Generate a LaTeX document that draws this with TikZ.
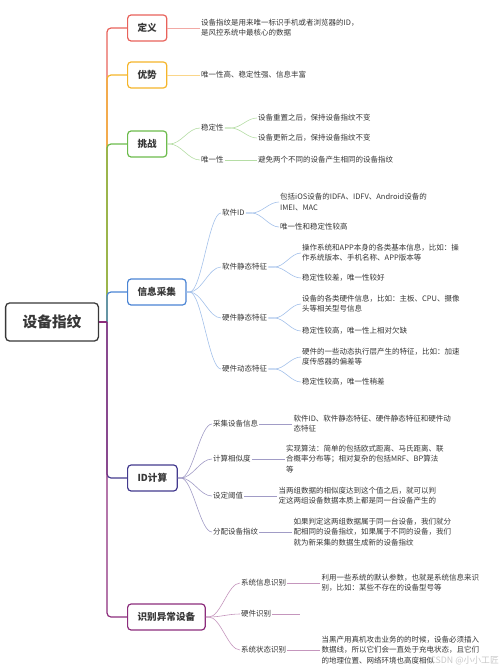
\documentclass[tikz,border=0pt]{standalone}
\usepackage{fontspec}
\setmainfont{Noto Sans CJK SC}
\usepackage{tikz}
\usetikzlibrary{positioning}
\definecolor{rootc}{HTML}{383838}
\definecolor{txt}{HTML}{363636}
\definecolor{cDef}{HTML}{E8625B}
\definecolor{cAdv}{HTML}{F5B52A}
\definecolor{cChal}{HTML}{6CBB4C}
\definecolor{cInfo}{HTML}{4A84D4}
\definecolor{cCalc}{HTML}{433A8E}
\definecolor{cAbn}{HTML}{8C2D7C}

\begin{document}
\begin{tikzpicture}[x=1pt,y=-1pt,
  rootbox/.style={draw=rootc,line width=1.3pt,rounded corners=4pt,text=rootc,font=\fontsize{14.7}{16}\selectfont\bfseries,inner xsep=17pt,minimum height=38pt},
  topic/.style={draw=#1,line width=1.2pt,rounded corners=3.5pt,fill=white,text=rootc,anchor=west,font=\fontsize{9.6}{11}\selectfont\bfseries,inner xsep=10pt,minimum height=26pt},
  sub/.style={anchor=west,inner sep=1pt,text=txt,font=\fontsize{7.5}{9}\selectfont},
  leaf/.style={anchor=west,inner sep=1pt,align=left,text=txt,font=\fontsize{7.5}{10.2}\selectfont},
  lk/.style={draw=#1,line width=.6pt},
  fan/.style={to path={.. controls +(#1,0) and +(-#1,0) .. (\tikztotarget)}},fan/.default=12]
\useasboundingbox (0,0) rectangle (500,671);

\node[rootbox] (root) at (52,322) {设备指纹};
\coordinate (tr) at (107,322);

% main topics
\node[topic=cDef] (def) at (127,28) {定义};
\node[topic=cAdv] (adv) at (127,75) {优势};
\node[topic=cChal] (chal) at (127,144) {挑战};
\node[topic=cInfo] (info) at (127,292) {信息采集};
\node[topic=cCalc] (calc) at (127,478) {ID计算};
\node[topic=cAbn] (abn) at (127,617) {识别异常设备};

% trunk
\foreach \t/\c in {def/cDef,adv/cAdv,chal/cChal,info/cInfo,calc/cCalc,abn/cAbn}
  \draw[\c,line width=1.2pt,rounded corners=4pt] (tr) -- (tr |- \t.west) -- (\t.west);
\draw[cAbn,line width=1.2pt] (root.east) -- (tr);

% 定义 / 优势
\node[leaf] (defl) at (200,28) {设备指纹是用来唯一标识手机或者浏览器的ID，\\是风控系统中最核心的数据};
\draw[lk=cDef!55] (def.east) -- (defl.west);
\node[leaf] (advl) at (200,75) {唯一性高、稳定性强、信息丰富};
\draw[lk=cAdv!55] (adv.east) -- (advl.west);

% 挑战
\node[sub] (stab) at (200,128) {稳定性};
\node[sub] (uniq) at (200,160) {唯一性};
\foreach \c in {stab,uniq}
  \draw[lk=cChal!50] (chal.east) -- ++(2,0) to[fan=12] (\c.west);
\node[leaf] (sta) at (257,118) {设备重置之后，保持设备指纹不变};
\node[leaf] (stb) at (257,138) {设备更新之后，保持设备指纹不变};
\foreach \c in {sta,stb}
  \draw[lk=cChal!50] (stab.east) -- ++(6,0) to[fan=10] (\c.west);
\node[leaf] (unl) at (257,160) {避免两个不同的设备产生相同的设备指纹};
\draw[lk=cChal!50] (uniq.east) -- (unl.west);

% 信息采集
\node[sub] (sw) at (221,213) {软件ID};
\node[sub] (ss) at (221,267) {软件静态特征};
\node[sub] (hs) at (221,318) {硬件静态特征};
\node[sub] (hd) at (221,369) {硬件动态特征};
\foreach \c in {sw,ss,hs,hd}
  \draw[lk=cInfo!50] (info.east) -- ++(3,0) to[fan=12] (\c.west);
\node[leaf] (swa) at (279,202) {包括iOS设备的IDFA、IDFV、Android设备的\\IMEI、MAC};
\node[leaf] (swb) at (279,227) {唯一性和稳定性较高};
\node[leaf] (ssa) at (301,253) {操作系统和APP本身的各类基本信息，比如：操\\作系统版本、手机名称、APP版本等};
\node[leaf] (ssb) at (301,278) {稳定性较差，唯一性较好};
\node[leaf] (hsa) at (301,304) {设备的各类硬件信息，比如：主板、CPU、摄像\\头等相关型号信息};
\node[leaf] (hsb) at (301,331) {稳定性较高，唯一性上相对欠缺};
\node[leaf] (hda) at (301,357) {硬件的一些动态执行层产生的特征，比如：加速\\度传感器的偏差等};
\node[leaf] (hdb) at (301,382) {稳定性较高，唯一性稍差};
\foreach \p/\a/\b in {sw/swa/swb,ss/ssa/ssb,hs/hsa/hsb,hd/hda/hdb}{
  \draw[lk=cInfo!50] (\p.east) -- ++(6,0) to[fan=10] (\a.west);
  \draw[lk=cInfo!50] (\p.east) -- ++(6,0) to[fan=10] (\b.west);}

% ID计算
\node[sub] (cg) at (212,424) {采集设备信息};
\node[sub] (cs) at (212,459) {计算相似度};
\node[sub] (ct) at (212,496) {设定阈值};
\node[sub] (ca) at (212,532) {分配设备指纹};
\foreach \c in {cg,cs,ct,ca}
  \draw[lk=cCalc!50] (calc.east) -- ++(3,0) to[fan=12] (\c.west);
\node[leaf,right=33pt of cg] (cgl) {软件ID、软件静态特征、硬件静态特征和硬件动\\态特征};
\node[leaf,right=33pt of cs] (csl) {实现算法：简单的包括欧式距离、马氏距离、联\\合概率分布等；相对复杂的包括MRF、BP算法\\等};
\node[leaf,right=33pt of ct] (ctl) {当两组数据的相似度达到这个值之后，就可以判\\定这两组设备数据本质上都是同一台设备产生的};
\node[leaf,right=33pt of ca] (cal) {如果判定这两组数据属于同一台设备，我们就分\\配相同的设备指纹，如果属于不同的设备，我们\\就为新采集的数据生成新的设备指纹};
\foreach \c in {cg,cs,ct,ca}
  \draw[lk=cCalc!50] (\c.east) -- (\c l.west);

% 识别异常设备
\node[sub] (ai) at (240,583) {系统信息识别};
\node[sub] (ah) at (240,614) {硬件识别};
\node[sub] (as) at (240,650) {系统状态识别};
\foreach \c in {ai,ah,as}
  \draw[lk=cAbn!50] (abn.east) -- ++(3,0) to[fan=12] (\c.west);
\node[leaf,right=33pt of ai] (ail) {利用一些系统的默认参数，也就是系统信息来识\\别，比如：某些不存在的设备型号等};
\coordinate[right=28pt of ah.east] (ahl);
\node[leaf,right=33pt of as] (asl) {当黑产用真机攻击业务的的时候，设备必须插入\\数据线，所以它们会一直处于充电状态，且它们\\的地理位置、网络环境也高度相似};
\draw[lk=cAbn!50] (ai.east) -- (ail.west);
\draw[lk=cAbn!50] (ah.east) -- (ahl);
\draw[lk=cAbn!50] (as.east) -- (asl.west);

\node[anchor=east,inner sep=0pt,text=black!22,font=\fontsize{8.8}{10}\selectfont] (wm) at (499,661) {CSDN @小小工匠};
\end{tikzpicture}
\end{document}
